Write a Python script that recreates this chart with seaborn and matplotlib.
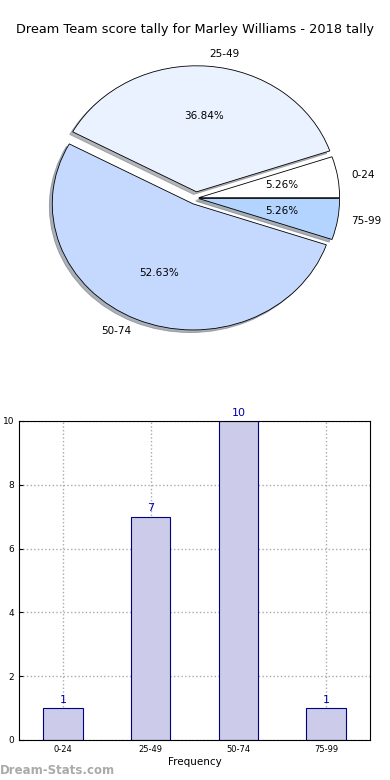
import seaborn as sns
import numpy as np
import matplotlib.pyplot as plt
import pandas as pd

# score bins and how many games fell into each
bins = ["0-24", "25-49", "50-74", "75-99"]
counts = [1, 7, 10, 1]
pie_colors = ["#ffffff", "#eaf1ff", "#c5d9ff", "#b3d4ff"]
explode = [0.02, 0.05, 0.05, 0.02]
title = "Dream Team score tally for Marley Williams - 2018 tally"

df = pd.DataFrame({"bin": bins, "count": counts})

sns.set_style("white")
plt.rcParams['font.family'] = ['DejaVu Sans']
plt.rcParams.update({"text.color": "black", "axes.labelcolor": "black",
                     "xtick.color": "black", "ytick.color": "black"})

fig = plt.figure(figsize=(3.9, 7.8), dpi=100)

# pie (top)
ax1 = fig.add_axes([0.051, 0.544, 0.903, 0.404])
wedges, texts, autotexts = ax1.pie(df["count"], labels=df["bin"], colors=pie_colors,
                                   explode=explode, autopct="%1.2f%%",
                                   shadow={"ox": -0.015, "oy": -0.015, "shade": 0.55},
                                   startangle=0, labeldistance=1.1, pctdistance=0.6,
                                   wedgeprops={"edgecolor": "black", "linewidth": 0.6},
                                   textprops={"fontsize": 7.5, "color": "black"})
ax1.set_aspect("auto")
ax1.set_xlim(-1.25, 1.25)
ax1.set_ylim(-1.25, 1.25)

fig.text(0.5, 1 - 30 / 780, title, ha="center", va="center", fontsize=9.3, color="black")

# bar chart (bottom)
ax2 = fig.add_axes([0.0487, 0.0513, 0.9, 0.409])
sns.barplot(data=df, x="bin", y="count", color="#ccccea", saturation=1,
            edgecolor="#000080", linewidth=0.8, width=0.45, ax=ax2, zorder=2)
for i, c in enumerate(counts):
    ax2.text(i, c + 0.1, str(c), ha="center", va="bottom", color="#0000aa", fontsize=8)

ax2.set_ylim(0, 10)
ax2.set_xlim(-0.5, 3.5)
ax2.set_yticks([0, 2, 4, 6, 8, 10])
ax2.grid(True, linestyle=":", color="#aaaaaa", linewidth=1, zorder=0)
ax2.set_axisbelow(True)
ax2.tick_params(axis="both", direction="in", length=3, color="black")
ax2.tick_params(axis="y", left=True, labelsize=6.5)
ax2.tick_params(axis="x", bottom=True, labelsize=6)
for s in ax2.spines.values():
    s.set_visible(True)
    s.set_color("black")
    s.set_linewidth(0.8)
ax2.set_xlabel("Frequency", fontsize=7.5, labelpad=2)
ax2.set_ylabel("Occurrences", fontsize=7.5, labelpad=6)

fig.text(0.0, 9 / 780, "Dream-Stats.com", ha="left", va="center",
         fontsize=8.5, fontweight="bold", color="#aaaaaa")

fig.savefig("out.png", dpi=100)
